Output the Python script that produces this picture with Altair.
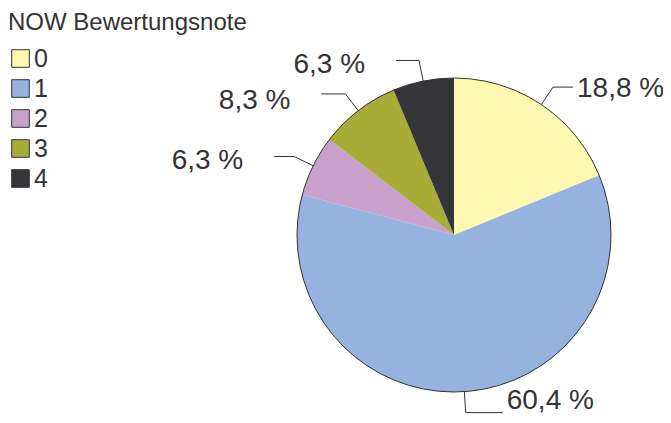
import altair as alt
import pandas as pd
import numpy as np

# ---- data ----
categories = ["0", "1", "2", "3", "4"]
percents = [18.8, 60.4, 6.3, 8.3, 6.3]
label_texts = ["18,8 %", "60,4 %", "6,3 %", "8,3 %", "6,3 %"]
colors = ["#FFF8B0", "#95B3DE", "#C7A0CB", "#A7AD37", "#35353A"]

# ---- layout ----
W, H = 655, 407
CX, CY, R = 446, 227, 157
R_ELBOW = 178
arm = [20, 37, 20, 24, 23]
text_dy = [2, -12, 4, 7, 5]
TXT = "#333333"
FONT = "Liberation Sans"

df = pd.DataFrame({"cat": categories, "value": percents, "label": label_texts})

# leader lines derived from slice angles
total = sum(percents)
cum = np.cumsum(percents)
mid = (cum - np.array(percents) / 2) / total * 2 * np.pi
segs, texts = [], []
for i, a in enumerate(mid):
    s, c = np.sin(a), np.cos(a)
    ex, ey = CX + R * s, CY - R * c
    bx, by = CX + R_ELBOW * s, CY - R_ELBOW * c
    side = 1 if s >= 0 else -1
    hx = bx + side * arm[i]
    segs.append({"x": ex, "y": ey, "x2": bx, "y2": by})
    segs.append({"x": bx, "y": by, "x2": hx, "y2": by})
    gap = 4 if side > 0 else 31
    texts.append({"x": hx + side * gap, "y": by + text_dy[i], "label": label_texts[i], "side": side})
seg_df = pd.DataFrame(segs)
txt_df = pd.DataFrame(texts)

pie = alt.Chart(df).mark_arc(outerRadius=R, stroke=None).encode(
    theta=alt.Theta("value:Q", stack=True),
    order=alt.Order("cat:N"),
    x=alt.value(CX),
    y=alt.value(CY),
    color=alt.Color(
        "cat:N",
        scale=alt.Scale(domain=categories, range=colors),
        legend=alt.Legend(
            title="NOW Bewertungsnote",
            orient="none",
            legendX=0,
            legendY=3,
            titleFontSize=24,
            titleFont=FONT,
            titleFontWeight="normal",
            titleColor=TXT,
            titlePadding=11,
            titleLimit=600,
            labelFontSize=25,
            labelFont=FONT,
            labelColor=TXT,
            labelOffset=1,
            symbolType="square",
            symbolSize=310,
            symbolStrokeColor="#333333",
            symbolStrokeWidth=1,
            rowPadding=4,
        ),
    ),
)

outline = alt.Chart(df.head(1)).mark_arc(
    outerRadius=R, theta=0, theta2=2 * np.pi, fillOpacity=0, stroke="#333333", strokeWidth=1
).encode(x=alt.value(CX), y=alt.value(CY))

rules = alt.Chart(seg_df).mark_rule(color="#333333", strokeWidth=1).encode(
    x=alt.X("x:Q", scale=None),
    y=alt.Y("y:Q", scale=None),
    x2="x2:Q",
    y2="y2:Q",
)

txt_right = alt.Chart(txt_df[txt_df.side > 0]).mark_text(
    align="left", baseline="middle", fontSize=28, font=FONT, color=TXT
).encode(x=alt.X("x:Q", scale=None), y=alt.Y("y:Q", scale=None), text="label:N")

txt_left = alt.Chart(txt_df[txt_df.side < 0]).mark_text(
    align="right", baseline="middle", fontSize=28, font=FONT, color=TXT
).encode(x=alt.X("x:Q", scale=None), y=alt.Y("y:Q", scale=None), text="label:N")

chart = alt.layer(pie, outline, rules, txt_right, txt_left).properties(
    width=W, height=H, autosize=alt.AutoSizeParams(type="none"), padding=0
).configure_view(stroke=None).configure_axis(disable=True)

chart.save("out.html", embed_options={"renderer": "svg", "actions": False})
